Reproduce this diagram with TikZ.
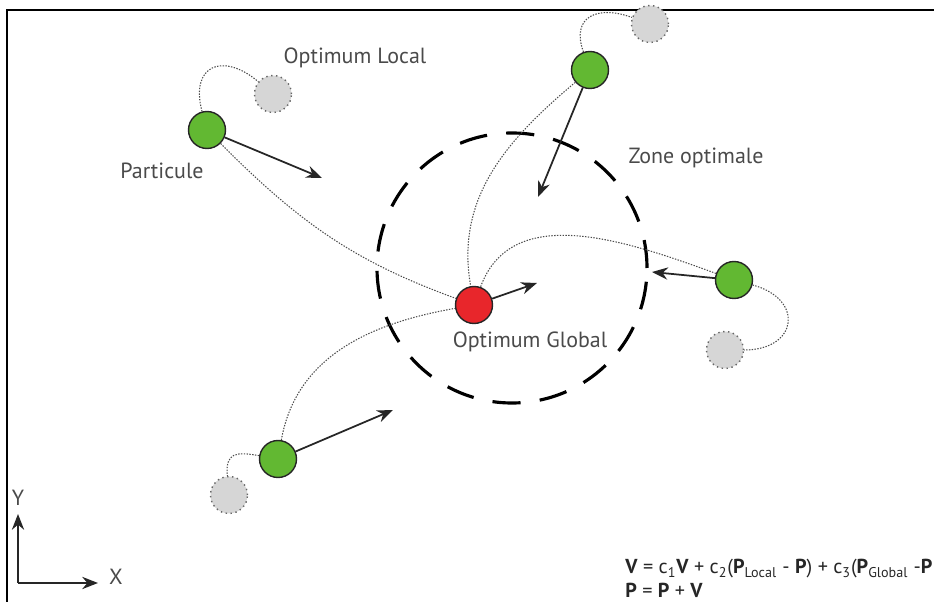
\documentclass[tikz,border=0pt]{standalone}
\usepackage{fontspec}
\setmainfont{PT Sans}
\usepackage{tikz}
\usetikzlibrary{arrows.meta}
\usepackage{tkz-euclide}

\definecolor{vert}{HTML}{62B832}
\definecolor{rouge}{HTML}{E8262B}
\definecolor{gris}{HTML}{D6D6D6}
\definecolor{texte}{HTML}{4A4A4A}

\begin{document}
\begin{tikzpicture}[x=0.02cm, y=0.02cm,
    particule/.style={circle, minimum size=0.74cm, inner sep=0pt, fill=vert, draw=black!85, line width=0.8pt},
    local/.style={circle, minimum size=0.74cm, inner sep=0pt, fill=gris, draw=black!60, dotted, line width=0.8pt},
    global/.style={particule, fill=rouge},
    chemin/.style={black!70, line width=0.6pt, dash pattern=on 0.8pt off 0.8pt},
    vitesse/.style={-{Stealth[length=9pt,width=7pt]}, line width=1pt, black!85},
    zone/.style={line width=1.8pt, dash pattern=on 16pt off 11pt},
    etiquette/.style={text=texte, font=\fontsize{12.5}{14}\selectfont},
    formule/.style={anchor=base west, inner sep=0pt, text=black!85, font=\fontsize{11.5}{12}\selectfont}]
            \useasboundingbox (0,0) rectangle (934,602);
            \clip (0,0) rectangle (934,602);
            \draw[line width=1.2pt] (7,0) |- (934,592);
            \tkzDefPoints{512/334/Z,322/424/a,538/405/b,652/330/c,393/192/d,537/319/o}
            \tkzDefPoints{18/19/R,18/88/Y,98/19/X}
            \draw[zone] (Z) circle (135);
            % particules et optima
            \node[local] (E) at (273,508) {};
            \node[local] (F) at (650,578) {};
            \node[local] (G) at (725,252) {};
            \node[local] (H) at (229,107) {};
            \node[particule] (A) at (207,472) {};
            \node[particule] (B) at (590,532) {};
            \node[particule] (C) at (734,322) {};
            \node[particule] (D) at (278,143) {};
            \node[global] (O) at (474,297) {};
            \draw[chemin] (A) to[out=105, in=140, looseness=1.9] (E);
            \draw[chemin] (B) to[out=110, in=160, looseness=1.6] (F);
            \draw[chemin] (C) to[out=-15, in=0, looseness=2.1] (G);
            \draw[chemin] (D) to[out=170, in=95, looseness=1.6] (H);
            \draw[chemin] (A) to[out=-45, in=160] (O);
            \draw[chemin] (B) to[out=-140, in=100] (O);
            \draw[chemin] (C) to[out=160, in=70] (O);
            \draw[chemin] (D) to[out=80, in=-170] (O);
            \draw[vitesse] (A) -- (a);
            \draw[vitesse] (B) -- (b);
            \draw[vitesse] (C) -- (c);
            \draw[vitesse] (D) -- (d);
            \draw[vitesse] (O) -- (o);
            \draw[vitesse] (R) -- (Y);
            \draw[vitesse] (R) -- (X);
            \node[etiquette] (lLocal) at (355,544) {Optimum Local};
            \node[etiquette] (lPart) at (162,431) {Particule};
            \node[etiquette] (lZone) at (696,444) {Zone optimale};
            \node[etiquette] (lGlobal) at (530,260) {Optimum Global};
            \node[etiquette] (lY) at (18,104) {Y};
            \node[etiquette] (lX) at (116,25) {X};
            \node[formule] (eqV) at (625,28)
              {\textbf{V} = c\textsubscript{1}\textbf{V} + c\textsubscript{2}(\textbf{P}\textsubscript{Local} - \textbf{P}) + c\textsubscript{3}(\textbf{P}\textsubscript{Global} -\textbf{P}};
            \node[formule] (eqP) at (625,4)
              {\textbf{P} = \textbf{P} + \textbf{V}};
        \end{tikzpicture}
\end{document}
